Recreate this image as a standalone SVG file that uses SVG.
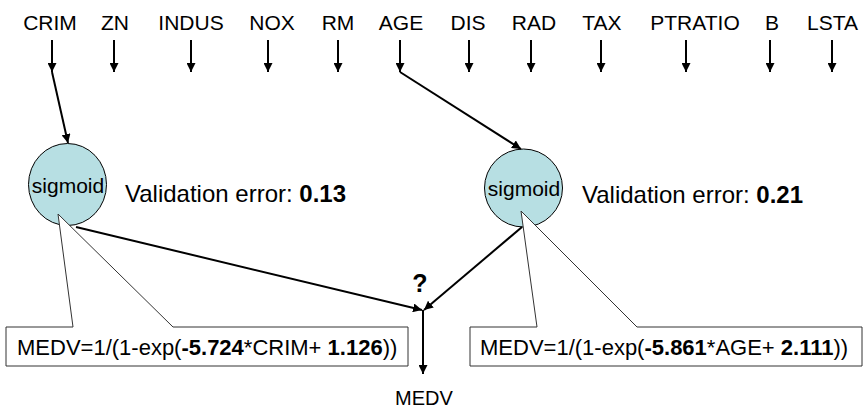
<svg xmlns="http://www.w3.org/2000/svg" width="865" height="411" viewBox="0 0 865 411">
  <style>
    text { font-family: "Liberation Sans", Arial, sans-serif; font-size: 21px; fill: #000; }
    .b { font-weight: bold; }
    .mid { text-anchor: middle; }
    .err { font-size: 24px; }
    .formula { font-size: 22px; }
    .arr { stroke: #000; stroke-width: 2; fill: none; marker-end: url(#head); }
    .node { fill: #b7dfe3; stroke: #000; stroke-width: 1; }
    .callout { fill: #fff; stroke: #333; stroke-width: 1; }
  </style>
  <defs>
    <marker id="head" viewBox="0 0 10 10" refX="10" refY="5" markerWidth="9" markerHeight="9" markerUnits="userSpaceOnUse" orient="auto">
      <path d="M0,0 L10,5 L0,10 Z" fill="#000"/>
    </marker>
  </defs>
  <rect width="865" height="411" fill="#fff"/>

  <!-- input attributes -->
  <g id="inputs">
    <text class="mid" x="50" y="30">CRIM</text>
    <text class="mid" x="115" y="30">ZN</text>
    <text class="mid" x="191" y="30">INDUS</text>
    <text class="mid" x="272" y="30">NOX</text>
    <text class="mid" x="338" y="30">RM</text>
    <text class="mid" x="401" y="30">AGE</text>
    <text class="mid" x="468" y="30">DIS</text>
    <text class="mid" x="534" y="30">RAD</text>
    <text class="mid" x="602" y="30">TAX</text>
    <text class="mid" x="695" y="30">PTRATIO</text>
    <text class="mid" x="772" y="30">B</text>
    <text x="807" y="30">LSTA</text>
  </g>

  <!-- sigmoid units -->
  <g id="sigmoid-crim">
    <ellipse class="node" cx="67.5" cy="184.5" rx="39" ry="41"/>
    <text class="mid" x="68" y="193">sigmoid</text>
  </g>
  <g id="sigmoid-age">
    <ellipse class="node" cx="523.5" cy="188" rx="39" ry="39"/>
    <text class="mid" x="524" y="196">sigmoid</text>
  </g>

  <g id="error-crim">
    <text class="err" x="125" y="202">Validation error: <tspan class="b">0.13</tspan></text>
  </g>
  <g id="error-age">
    <text class="err" x="582" y="203">Validation error: <tspan class="b">0.21</tspan></text>
  </g>

  <!-- formula callouts -->
  <g id="formula-crim">
    <path class="callout" d="M6,327 H73 L58,214 L173,327 H408 V366 H6 Z"/>
    <text class="formula" x="17" y="355">MEDV=1/(1-exp(<tspan class="b">-5.724</tspan>*CRIM+ <tspan class="b">1.126</tspan>))</text>
  </g>
  <g id="formula-age">
    <path class="callout" d="M470,327 H537 L521,211 L637,327 H862 V366 H470 Z"/>
    <text class="formula" x="480" y="355">MEDV=1/(1-exp(<tspan class="b">-5.861</tspan>*AGE+ <tspan class="b">2.111</tspan>))</text>
  </g>

  <g id="output">
    <text class="mid b" x="420" y="292" style="font-size:25px">?</text>
    <text class="mid" x="424" y="405" style="font-size:20px">MEDV</text>
  </g>

  <!-- connectors -->
  <g id="connectors">
    <line class="arr" x1="52" y1="40" x2="52" y2="72"/>
    <line class="arr" x1="114" y1="40" x2="114" y2="72"/>
    <line class="arr" x1="191" y1="40" x2="191" y2="72"/>
    <line class="arr" x1="268" y1="40" x2="268" y2="72"/>
    <line class="arr" x1="338" y1="40" x2="338" y2="72"/>
    <line class="arr" x1="400" y1="40" x2="400" y2="72"/>
    <line class="arr" x1="469" y1="40" x2="469" y2="72"/>
    <line class="arr" x1="531" y1="40" x2="531" y2="72"/>
    <line class="arr" x1="601" y1="40" x2="601" y2="72"/>
    <line class="arr" x1="686" y1="40" x2="686" y2="72"/>
    <line class="arr" x1="770" y1="40" x2="770" y2="72"/>
    <line class="arr" x1="832" y1="40" x2="832" y2="72"/>

    <line class="arr" x1="52" y1="72" x2="68" y2="143"/>
    <line class="arr" x1="400" y1="72" x2="521" y2="149"/>

    <line class="arr" x1="76" y1="227" x2="422" y2="310"/>
    <line class="arr" x1="522" y1="227" x2="424" y2="310"/>
    <line class="arr" x1="423" y1="310" x2="423" y2="374"/>
  </g>
</svg>
